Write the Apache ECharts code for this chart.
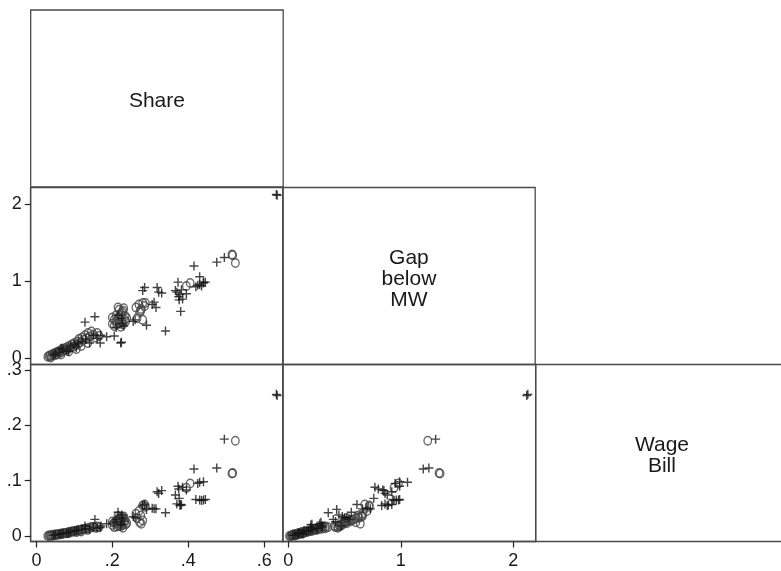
<!DOCTYPE html>
<html>
<head>
<meta charset="utf-8">
<script src="https://cdn.jsdelivr.net/npm/echarts@6/dist/echarts.min.js"></script>
<style>
  html, body { margin: 0; padding: 0; background: #fff; }
  #chart { width: 781px; height: 571px; }
</style>
</head>
<body>
<div id="chart"></div>
<script>
// Variable names shown on the diagonal of the matrix
const varNames = ['Share', 'Gap\nbelow\nMW', 'Wage\nBill'];

// Tick values for each variable
const shareTicks = [0, 0.2, 0.4, 0.6];
const gapTicks = [0, 1, 2];
const wageTicks = [0, 0.1, 0.2, 0.3];

// Group 1 (plus markers): share, gap below MW, wage bill
const shareP = [0.632, 0.634, 0.495, 0.475, 0.415, 0.430, 0.440, 0.425, 0.375, 0.385,
                0.395, 0.366, 0.318, 0.322, 0.420, 0.430, 0.440, 0.445, 0.435, 0.370,
                0.378, 0.382, 0.376, 0.380, 0.373, 0.340, 0.310, 0.290, 0.280, 0.285,
                0.255, 0.260, 0.222, 0.224, 0.185, 0.205, 0.154, 0.128, 0.215, 0.225,
                0.210, 0.225, 0.230, 0.305, 0.315, 0.050, 0.060, 0.070, 0.080, 0.090,
                0.100, 0.110, 0.120, 0.130, 0.140, 0.150, 0.160, 0.170, 0.045, 0.065,
                0.085, 0.105, 0.330, 0.168];
const gapP   = [2.13, 2.12, 1.31, 1.25, 1.20, 1.06, 0.99, 0.95, 0.80, 0.77,
                0.84, 0.88, 0.92, 0.86, 0.93, 0.96, 0.98, 0.99, 0.94, 0.86,
                0.83, 0.89, 0.76, 0.61, 0.99, 0.355, 0.73, 0.43, 0.88, 0.92,
                0.48, 0.50, 0.20, 0.21, 0.28, 0.29, 0.54, 0.47, 0.56, 0.45,
                0.40, 0.52, 0.42, 0.70, 0.66, 0.06, 0.08, 0.12, 0.10, 0.16,
                0.18, 0.20, 0.22, 0.25, 0.20, 0.30, 0.26, 0.30, 0.04, 0.13,
                0.09, 0.14, 0.85, 0.20];
const wageP  = [0.256, 0.254, 0.175, 0.123, 0.121, 0.097, 0.098, 0.095, 0.085, 0.088,
                0.083, 0.074, 0.080, 0.077, 0.066, 0.065, 0.065, 0.066, 0.064, 0.058,
                0.055, 0.056, 0.068, 0.057, 0.090, 0.042, 0.049, 0.048, 0.055, 0.057,
                0.035, 0.033, 0.020, 0.021, 0.022, 0.025, 0.030, 0.018, 0.043, 0.038,
                0.030, 0.033, 0.026, 0.050, 0.049, 0.002, 0.003, 0.005, 0.005, 0.008,
                0.009, 0.011, 0.012, 0.013, 0.012, 0.016, 0.014, 0.018, 0.001, 0.004,
                0.006, 0.010, 0.082, 0.015];

// Group 2 (hollow circle markers): share, gap below MW, wage bill
const shareC = [0.515, 0.517, 0.524, 0.405, 0.395, 0.270, 0.280, 0.285, 0.287, 0.262,
                0.275, 0.265, 0.280, 0.272, 0.276, 0.200, 0.205, 0.210, 0.215, 0.218,
                0.220, 0.222, 0.225, 0.228, 0.230, 0.232, 0.235, 0.205, 0.212, 0.226,
                0.210, 0.218, 0.234, 0.238, 0.200, 0.215, 0.228, 0.222, 0.030, 0.033,
                0.036, 0.040, 0.042, 0.045, 0.048, 0.050, 0.053, 0.055, 0.058, 0.060,
                0.063, 0.066, 0.068, 0.071, 0.074, 0.077, 0.080, 0.083, 0.086, 0.090,
                0.093, 0.097, 0.100, 0.104, 0.108, 0.112, 0.116, 0.120, 0.124, 0.128,
                0.132, 0.136, 0.140, 0.145, 0.150, 0.155, 0.160, 0.165, 0.118, 0.105,
                0.135, 0.085, 0.038, 0.065];
const gapC   = [1.35, 1.34, 1.24, 0.98, 0.94, 0.70, 0.72, 0.68, 0.72, 0.66,
                0.62, 0.52, 0.50, 0.60, 0.64, 0.45, 0.50, 0.48, 0.52, 0.46,
                0.55, 0.58, 0.60, 0.62, 0.65, 0.50, 0.48, 0.42, 0.44, 0.47,
                0.56, 0.63, 0.55, 0.52, 0.53, 0.66, 0.44, 0.41, 0.02, 0.03,
                0.04, 0.03, 0.05, 0.06, 0.04, 0.07, 0.08, 0.05, 0.09, 0.07,
                0.10, 0.08, 0.12, 0.10, 0.13, 0.11, 0.14, 0.12, 0.16, 0.14,
                0.18, 0.15, 0.20, 0.17, 0.22, 0.25, 0.21, 0.27, 0.24, 0.30,
                0.26, 0.33, 0.28, 0.35, 0.31, 0.27, 0.33, 0.29, 0.16, 0.12,
                0.20, 0.09, 0.01, 0.05];
const wageC  = [0.113, 0.114, 0.172, 0.095, 0.087, 0.045, 0.055, 0.057, 0.053, 0.040,
                0.037, 0.032, 0.028, 0.025, 0.022, 0.020, 0.024, 0.022, 0.026, 0.018,
                0.028, 0.030, 0.032, 0.034, 0.035, 0.025, 0.021, 0.016, 0.017, 0.019,
                0.027, 0.033, 0.029, 0.023, 0.026, 0.036, 0.015, 0.018, 0.000, 0.001,
                0.001, 0.001, 0.002, 0.001, 0.002, 0.002, 0.003, 0.002, 0.003, 0.003,
                0.004, 0.004, 0.004, 0.005, 0.005, 0.005, 0.006, 0.006, 0.007, 0.007,
                0.008, 0.008, 0.009, 0.009, 0.010, 0.011, 0.010, 0.012, 0.012, 0.013,
                0.013, 0.014, 0.015, 0.016, 0.016, 0.015, 0.017, 0.016, 0.008, 0.007,
                0.011, 0.005, 0.000, 0.003];

// Panel geometry (3 x 3 lower-half matrix)
const colX = [30.7, 282.7, 535.7];
const rowY = [10, 187.5, 364.5];
const cellW = 252.5, cellH = 177;

// Axis ranges per variable
const shareRange = [-0.015, 0.65];
const gapRangeY = [-0.08, 2.22];
const gapRangeX = [-0.05, 2.2];
const wageRange = [-0.01, 0.31];

const FONT = '"Liberation Sans", Arial, Helvetica, sans-serif';
const frameColor = '#4a4a4a';

function fmt(v) {
  if (v === 0) return '0';
  const s = String(Math.round(v * 1000) / 1000);
  return s.startsWith('0.') ? s.slice(1) : s;
}

function axis(gridIndex, range, ticks, labelled, margin) {
  return {
    type: 'value',
    gridIndex: gridIndex,
    min: range[0],
    max: range[1],
    splitLine: { show: false },
    axisLine: { show: labelled, onZero: false, lineStyle: { color: frameColor, width: 1.3 } },
    axisTick: {
      show: labelled, inside: false, length: 6,
      customValues: ticks,
      lineStyle: { color: '#222', width: 1.2 }
    },
    axisLabel: {
      show: labelled,
      customValues: ticks,
      formatter: fmt,
      margin: margin,
      color: '#1a1a1a',
      fontSize: 18,
      fontFamily: FONT
    }
  };
}

function pairs(xs, ys) {
  return xs.map((x, i) => [x, ys[i]]);
}

const plusStyle = {
  type: 'scatter',
  symbol: 'path://M0,5L10,5M5,0L5,10',
  symbolSize: 9,
  itemStyle: { color: 'rgba(0,0,0,0)', borderColor: '#151515', borderWidth: 1.4 },
  silent: true
};
const circleStyle = {
  type: 'scatter',
  symbol: 'circle',
  symbolSize: [7.5, 8.5],
  itemStyle: { color: 'rgba(0,0,0,0)', borderColor: '#444', borderWidth: 1.4 },
  silent: true
};

// Lower-half panels: (row 2, col 1), (row 3, col 1), (row 3, col 2)
const grids = [
  { left: colX[0], top: rowY[1], width: cellW, height: cellH },
  { left: colX[0], top: rowY[2], width: cellW, height: cellH },
  { left: colX[1], top: rowY[2], width: cellW + 0.5, height: cellH }
].map(g => Object.assign(g, {
  show: true, borderColor: frameColor, borderWidth: 1.3, backgroundColor: 'transparent'
}));

const xAxes = [
  axis(0, shareRange, shareTicks, false, 11),
  axis(1, shareRange, shareTicks, true, 11),
  axis(2, gapRangeX, gapTicks, true, 11)
];
const yAxes = [
  axis(0, gapRangeY, gapTicks, true, 9),
  axis(1, wageRange, wageTicks, true, 9),
  axis(2, wageRange, wageTicks, false, 9)
];

const series = [
  Object.assign({}, circleStyle, { xAxisIndex: 0, yAxisIndex: 0, data: pairs(shareC, gapC) }),
  Object.assign({}, plusStyle,   { xAxisIndex: 0, yAxisIndex: 0, data: pairs(shareP, gapP) }),
  Object.assign({}, circleStyle, { xAxisIndex: 1, yAxisIndex: 1, data: pairs(shareC, wageC) }),
  Object.assign({}, plusStyle,   { xAxisIndex: 1, yAxisIndex: 1, data: pairs(shareP, wageP) }),
  Object.assign({}, circleStyle, { xAxisIndex: 2, yAxisIndex: 2, data: pairs(gapC, wageC) }),
  Object.assign({}, plusStyle,   { xAxisIndex: 2, yAxisIndex: 2, data: pairs(gapP, wageP) })
];

// Diagonal panels carrying the variable names
const diag = varNames.map((name, i) => {
  const w = i === 2 ? 260 : cellW;
  return {
    type: 'group',
    children: [
      {
        type: 'rect',
        shape: { x: colX[i], y: rowY[i], width: w, height: cellH },
        style: { fill: 'none', stroke: frameColor, lineWidth: 1.3 }
      },
      {
        type: 'text',
        x: colX[i] + cellW / 2,
        y: rowY[i] + cellH / 2 + 3,
        style: {
          text: name,
          fill: '#1a1a1a',
          font: '21px ' + FONT,
          lineHeight: 21,
          align: 'center',
          verticalAlign: 'middle'
        }
      }
    ]
  };
});

const chart = echarts.init(document.getElementById('chart'), null, { renderer: 'canvas' });
chart.setOption({
  animation: false,
  backgroundColor: '#fff',
  grid: grids,
  xAxis: xAxes,
  yAxis: yAxes,
  series: series,
  graphic: diag
});
</script>
</body>
</html>
